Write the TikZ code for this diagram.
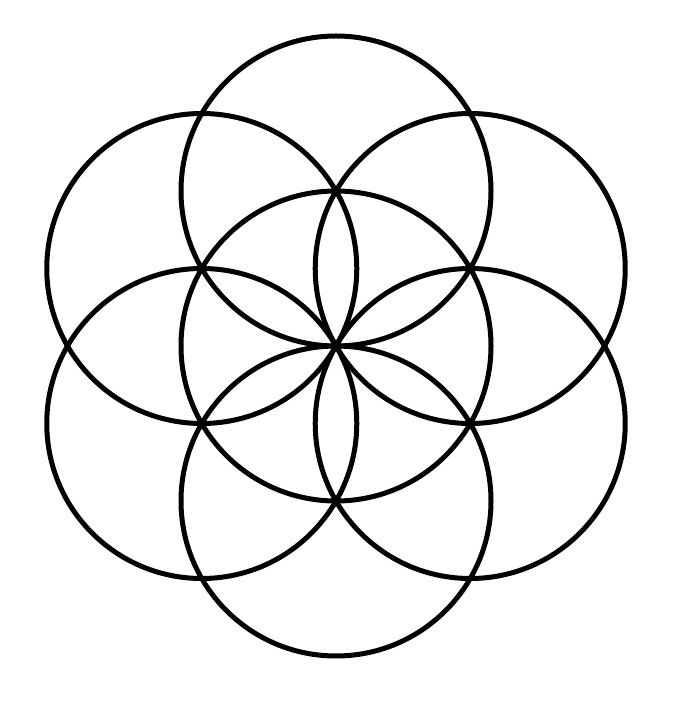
\documentclass[tikz,border=0pt]{standalone}
\usepackage{tikz}
\usetikzlibrary{positioning, calc}

\begin{document}
\begin{tikzpicture}
    [petal/.style={circle, draw=black, line width=0.05cm, minimum size=3.1cm, inner sep=0pt},]

    \useasboundingbox (0,0) rectangle (6.85,7.07);

    %Centre circle
    \node[petal](C0) at (3.36,3.61){};

    %Ring of six circles
    \foreach \a [count=\i] in {90,30,...,-210}
        \node[petal](C\i) at ([shift={(\a:1.55)}]C0.center){};

\end{tikzpicture}
\end{document}
